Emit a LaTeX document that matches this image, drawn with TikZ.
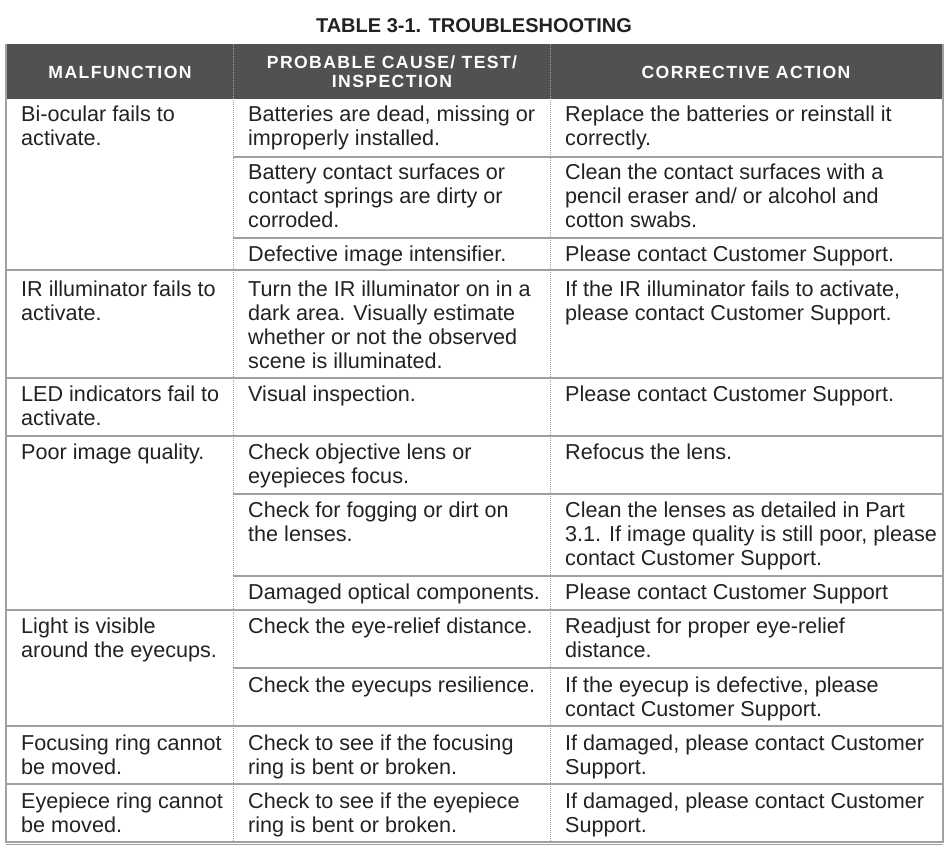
\documentclass[tikz,border=0pt]{standalone}
\usepackage{fontspec}
\setmainfont{Liberation Sans}
\newfontfamily\hdrfont[LetterSpace=8]{Liberation Sans}
\definecolor{hdr}{HTML}{505152}
\definecolor{rule}{HTML}{A0A0A0}
\definecolor{txt}{HTML}{222222}
\begin{document}
\begin{tikzpicture}[x=1pt,y=-1pt,
  cell/.style={anchor=north west,inner sep=0pt,align=left,text=txt,font=\fontsize{21.6}{24}\selectfont},
  head/.style={inner sep=0pt,align=center,text=white,font=\hdrfont\bfseries\fontsize{17.6}{19}\selectfont},
  hline/.style={draw=rule,line width=1.2pt},
  vline/.style={draw=rule,line width=1pt,densely dotted}]
\useasboundingbox (0,0) rectangle (949,849);
\node[font=\bfseries\fontsize{20}{22}\selectfont,text=txt] (title) at (474,26) {TABLE 3-1. TROUBLESHOOTING};
\fill[hdr] (6,44) rectangle (943,99);
\node[head] (h1) at (120,72) {MALFUNCTION};
\node[head] (h2) at (392,72) {PROBABLE CAUSE/ TEST/\\INSPECTION};
\node[head] (h3) at (746,72) {CORRECTIVE ACTION};
% horizontal rules
\foreach \y in {270,378,436,610,726,784} \draw[hline] (6,\y) -- (943,\y);
\foreach \y in {157,238,494,576,668} \draw[hline] (233,\y) -- (943,\y);
\draw[vline] (233,44) -- (233,842);
\draw[vline] (550,44) -- (550,842);
\draw[draw=rule,line width=1.5pt] (6,44) -- (6,842) -- (943,842) -- (943,44);
\draw[draw=rule,line width=1pt] (6,844) -- (943,844);
% col 1
\node[cell] (a1) at (21,106) {Bi-ocular fails to\\activate.};
\node[cell] (a2) at (21,281) {IR illuminator fails to\\activate.};
\node[cell] (a3) at (21,386) {LED indicators fail to\\activate.};
\node[cell] (a4) at (21,444) {Poor image quality.};
\node[cell] (a5) at (21,618) {Light is visible\\around the eyecups.};
\node[cell] (a6) at (21,735) {Focusing ring cannot\\be moved.};
\node[cell] (a7) at (21,793) {Eyepiece ring cannot\\be moved.};
% col 2
\node[cell] (b1) at (248,106) {Batteries are dead, missing or\\improperly installed.};
\node[cell] (b2) at (248,164) {Battery contact surfaces or\\contact springs are dirty or\\corroded.};
\node[cell] (b3) at (248,246) {Defective image intensifier.};
\node[cell] (b4) at (248,281) {Turn the IR illuminator on in a\\dark area. Visually estimate\\whether or not the observed\\scene is illuminated.};
\node[cell] (b5) at (248,386) {Visual inspection.};
\node[cell] (b6) at (248,444) {Check objective lens or\\eyepieces focus.};
\node[cell] (b7) at (248,502) {Check for fogging or dirt on\\the lenses.};
\node[cell] (b8) at (248,584) {Damaged optical components.};
\node[cell] (b9) at (248,618) {Check the eye-relief distance.};
\node[cell] (b10) at (248,677) {Check the eyecups resilience.};
\node[cell] (b11) at (248,735) {Check to see if the focusing\\ring is bent or broken.};
\node[cell] (b12) at (248,793) {Check to see if the eyepiece\\ring is bent or broken.};
% col 3
\node[cell] (c1) at (565,106) {Replace the batteries or reinstall it\\correctly.};
\node[cell] (c2) at (565,164) {Clean the contact surfaces with a\\pencil eraser and/ or alcohol and\\cotton swabs.};
\node[cell] (c3) at (565,246) {Please contact Customer Support.};
\node[cell] (c4) at (565,281) {If the IR illuminator fails to activate,\\please contact Customer Support.};
\node[cell] (c5) at (565,386) {Please contact Customer Support.};
\node[cell] (c6) at (565,444) {Refocus the lens.};
\node[cell] (c7) at (565,502) {Clean the lenses as detailed in Part\\3.1. If image quality is still poor, please\\contact Customer Support.};
\node[cell] (c8) at (565,584) {Please contact Customer Support};
\node[cell] (c9) at (565,618) {Readjust for proper eye-relief\\distance.};
\node[cell] (c10) at (565,677) {If the eyecup is defective, please\\contact Customer Support.};
\node[cell] (c11) at (565,735) {If damaged, please contact Customer\\Support.};
\node[cell] (c12) at (565,793) {If damaged, please contact Customer\\Support.};
\end{tikzpicture}
\end{document}
